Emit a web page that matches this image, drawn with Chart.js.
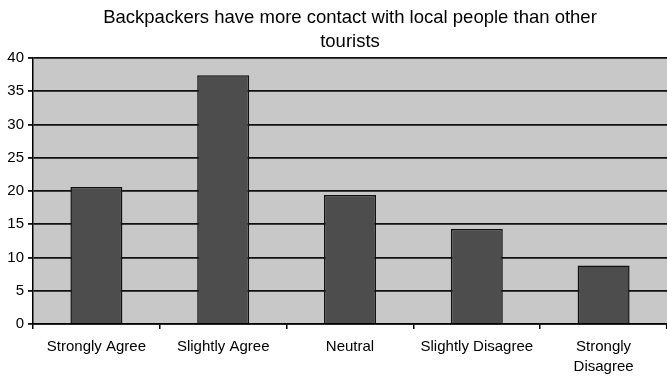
<!DOCTYPE html>
<html>
<head>
<meta charset="utf-8">
<script src="https://cdn.jsdelivr.net/npm/chart.js@4/dist/chart.umd.min.js"></script>
<style>
html,body{margin:0;padding:0;background:#fff;}
#wrap{width:667px;height:376px;position:relative;}
</style>
</head>
<body>
<div id="wrap"><canvas id="c" width="667" height="376"></canvas></div>
<script>
const titleLines = ['Backpackers have more contact with local people than other', 'tourists'];
const categories = ['Strongly Agree', 'Slightly Agree', 'Neutral', 'Slightly Disagree', ['Strongly', 'Disagree']];
const values = [20.6, 37.4, 19.4, 14.3, 8.8];
const yTicks = [0, 5, 10, 15, 20, 25, 30, 35, 40];

const FONT = '"Liberation Sans", Arial, sans-serif';

const plotBg = {
  id: 'plotBg',
  beforeDraw(chart) {
    const {ctx, chartArea: a} = chart;
    ctx.save();
    ctx.fillStyle = '#c8c8c8';
    ctx.fillRect(a.left, a.top, a.right - a.left, a.bottom - a.top);
    ctx.restore();
  }
};
const titlePlug = {
  id: 'titlePlug',
  afterDraw(chart) {
    const {ctx, chartArea: a} = chart;
    ctx.save();
    ctx.fillStyle = '#000';
    ctx.font = '18.5px ' + FONT;
    ctx.textAlign = 'center';
    ctx.textBaseline = 'middle';
    const cx = (a.left + a.right) / 2;
    titleLines.forEach((t, i) => ctx.fillText(t, cx, 18 + i * 24));
    ctx.restore();
  }
};

new Chart(document.getElementById('c'), {
  type: 'bar',
  data: {
    labels: categories,
    datasets: [{
      data: values,
      backgroundColor: '#4d4d4d',
      borderColor: '#111',
      borderWidth: 1.5,
      barPercentage: 0.41,
      categoryPercentage: 1
    }]
  },
  options: {
    responsive: false,
    animation: false,
    layout: {padding: {top: 58, right: 0, left: 0, bottom: 0}},
    plugins: {legend: {display: false}, tooltip: {enabled: false}, title: {display: false}},
    scales: {
      x: {
        afterFit(s) { s.height = 52; },
        grid: {display: true, offset: true, drawOnChartArea: false, tickLength: 5, color: '#000', lineWidth: 1.5},
        border: {display: true, color: '#000', width: 1.5},
        ticks: {color: '#000', font: {family: FONT, size: 15, lineHeight: 1.33}, padding: 8, maxRotation: 0, autoSkip: false}
      },
      y: {
        min: 0, max: 40,
        afterFit(s) { s.width = 33; },
        afterBuildTicks(s) { s.ticks = yTicks.map(v => ({value: v})); },
        grid: {display: true, color: '#111', lineWidth: 1.8, tickLength: 5},
        border: {display: true, color: '#000', width: 1.5},
        ticks: {color: '#000', font: {family: FONT, size: 15}, padding: 4}
      }
    }
  },
  plugins: [plotBg, titlePlug]
});
</script>
</body>
</html>
